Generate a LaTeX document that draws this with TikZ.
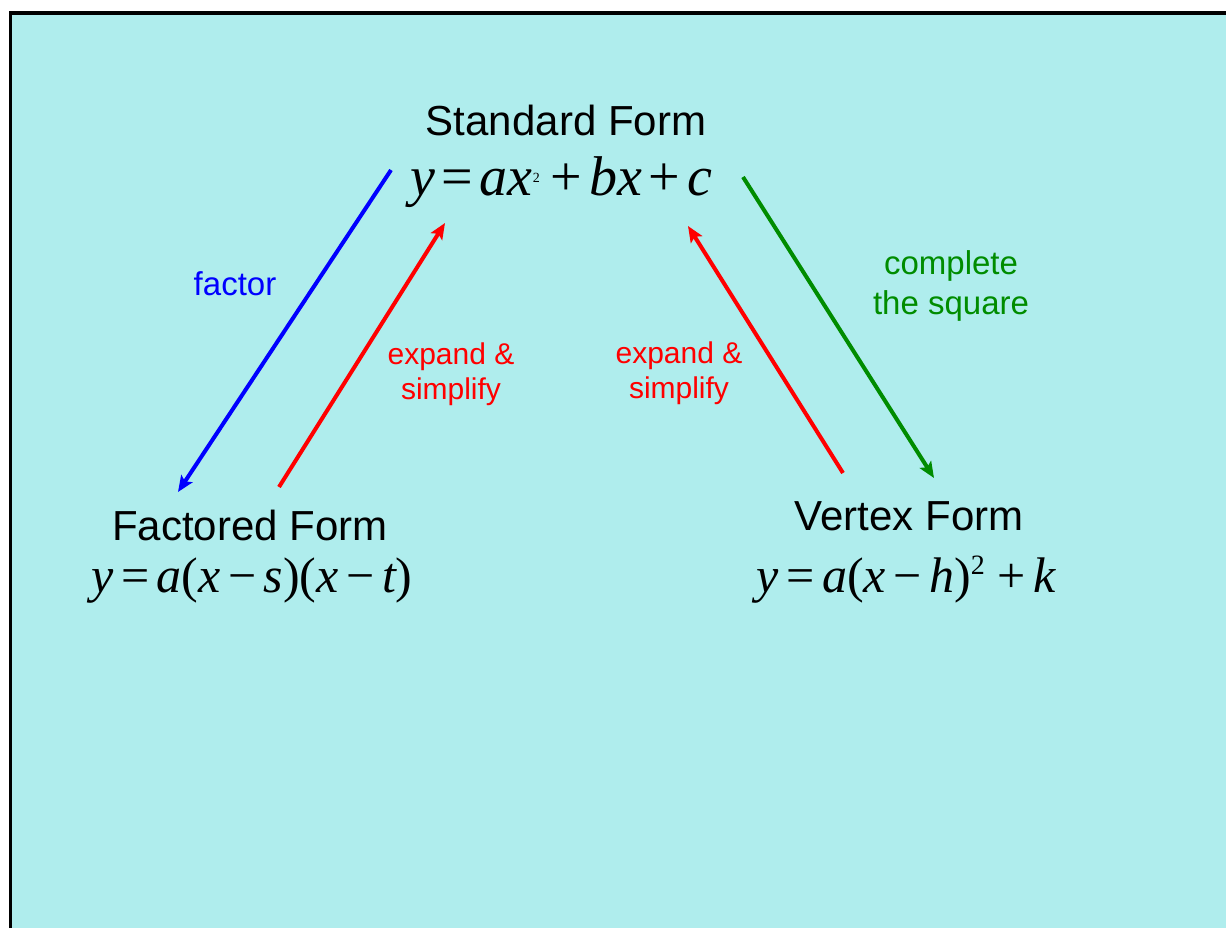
\documentclass[tikz,border=0pt]{standalone}
\usepackage{fontspec}
\setmainfont{Liberation Sans}
\newfontfamily\tnr{Liberation Serif}
\usetikzlibrary{arrows.meta}
\definecolor{bgc}{RGB}{175,237,237}
\definecolor{grn}{RGB}{0,140,0}
\newcommand{\gp}{\hspace{0.12em}}
\newcommand{\gq}{\hspace{0.15em}}
\newcommand{\supsm}[3]{\raisebox{#2}{\fontsize{#1}{#1}\selectfont #3}}
\begin{document}
\begin{tikzpicture}[x=0.75pt,y=-0.75pt,
  title/.style={font=\fontsize{31.5}{36}\selectfont, inner sep=0pt, anchor=base},
  formula/.style={font=\tnr\fontsize{37.5}{40}\selectfont, inner sep=0pt, anchor=base},
  bigformula/.style={font=\tnr\fontsize{42}{44}\selectfont, inner sep=0pt, anchor=base},
  lbl/.style={font=\fontsize{24.75}{30}\selectfont, inner sep=0pt, align=center},
  lblred/.style={font=\fontsize{22.5}{26.25}\selectfont, inner sep=0pt, align=center, text=red},
  conn/.style={line width=3pt, -{Stealth[length=12pt,width=10pt,inset=2.5pt]}}
]
\useasboundingbox (0,0) rectangle (1226,928);
\fill[bgc] (10,13) rectangle (1226,928);
\draw[line width=2.4pt] (10.5,928) -- (10.5,13) -- (1226,13);

% titles
\node[title] (stdT) at (566,135) {Standard Form};
\node[title] (facT) at (250,540) {Factored Form};
\node[title] (verT) at (909,530) {Vertex Form};

% formulas
\node[bigformula] (stdF) at (561,195) {{\itshape y}\gp=\gp{\itshape ax}\supsm{10.5}{9.5pt}{2}\hspace{0.2em}+\gp{\itshape bx}\gp+\gp{\itshape c}};
\node[formula] (facF) at (252,592) {{\itshape y}\gq=\gq{\itshape a}({\itshape x}\gq−\gq{\itshape s})({\itshape x}\gq−\gq{\itshape t})};
\node[formula] (verF) at (906,592) {{\itshape y}\gq=\gq{\itshape a}({\itshape x}\gq−\gq{\itshape h})\supsm{21}{13.5pt}{2}\hspace{0.25em}+\gq{\itshape k}};

% connector end points
\coordinate (b1) at (391,170);
\coordinate (b2) at (178,492);
\coordinate (r1) at (279,487);
\coordinate (r2) at (445,223);
\coordinate (r3) at (843,473);
\coordinate (r4) at (688,226);
\coordinate (g1) at (743,177);
\coordinate (g2) at (934,478);

\draw[conn, blue] (b1) -- (b2);
\draw[conn, red] (r1) -- (r2);
\draw[conn, red] (r3) -- (r4);
\draw[conn, grn] (g1) -- (g2);

% labels
\node[lbl, text=blue, anchor=base] (lf) at (235,295) {factor};
\node[lblred] (le1) at (451,374) {expand \&\\simplify};
\node[lblred] (le2) at (679,373) {expand \&\\simplify};
\node[lbl, text=grn] (lc) at (951,286) {complete\\the square};
\end{tikzpicture}
\end{document}
